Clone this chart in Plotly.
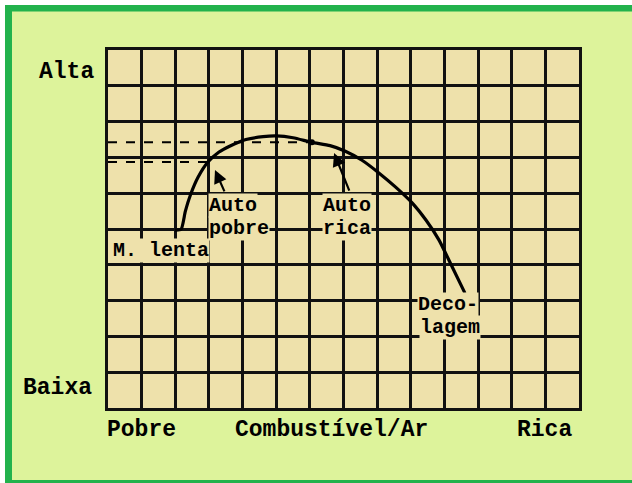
import plotly.graph_objects as go

# ---- data (grid units: x = mixture 0..14, y = power 0..10) ----
curve_x = [1.99, 2.17, 2.30, 2.45, 2.68, 2.97, 3.30, 3.63, 4.10, 4.61, 5.00, 5.50,
           6.06, 6.60, 7.04, 7.55, 8.06, 8.55, 9.04, 9.45, 9.84, 10.20, 10.61]
curve_y = [4.97, 4.99, 5.50, 5.95, 6.45, 6.87, 7.15, 7.32, 7.50, 7.58, 7.60, 7.55,
           7.42, 7.33, 7.18, 6.92, 6.56, 6.17, 5.73, 5.25, 4.69, 4.00, 3.21]

dash_hi_x = [0.0, 6.06]
dash_hi_y = [7.42, 7.42]
dash_lo_x = [0.0, 2.97]
dash_lo_y = [6.87, 6.87]

dot_x = [6.06]
dot_y = [7.42]

y_labels = ["Alta", "Baixa"]
x_labels = ["Pobre", "Combustível/Ar", "Rica"]

# inner labels, one entry per text line
line_labels = ["M. lenta", "Auto", "pobre", "Auto", "rica", "Deco-", "lagem"]
line_lab_x = [0.12, 2.97, 2.97, 6.36, 6.36, 9.18, 9.24]
line_lab_y = [4.41, 5.67, 5.02, 5.67, 5.02, 2.90, 2.25]

arrow_tail_x = [3.48, 7.19]
arrow_tail_y = [6.01, 6.03]
arrow_tip_x = [3.18, 6.72]
arrow_tip_y = [6.65, 7.12]

BG = "#DDF39B"
CELL = "#EEE1AB"
GREEN = "#22B24C"
FONT = "Liberation Mono"

fig = go.Figure()
fig.add_trace(go.Scatter(x=dash_hi_x, y=dash_hi_y, mode="lines",
                         line=dict(color="black", width=2, dash="dash"), hoverinfo="skip"))
fig.add_trace(go.Scatter(x=dash_lo_x, y=dash_lo_y, mode="lines",
                         line=dict(color="black", width=2, dash="dash"), hoverinfo="skip"))
fig.add_trace(go.Scatter(x=curve_x, y=curve_y, mode="lines",
                         line=dict(color="black", width=3.2, shape="spline", smoothing=0.6),
                         hoverinfo="skip"))
fig.add_trace(go.Scatter(x=dot_x, y=dot_y, mode="markers",
                         marker=dict(color="black", size=6), hoverinfo="skip"))

ann = []
# outer labels (paper coords)
ann.append(dict(text=y_labels[0], x=-0.089, y=0.9385))
ann.append(dict(text=y_labels[1], x=-0.108, y=0.056))
ann.append(dict(text=x_labels[0], x=0.072, y=-0.062))
ann.append(dict(text=x_labels[1], x=0.4745, y=-0.062))
ann.append(dict(text=x_labels[2], x=0.9268, y=-0.062))
for a in ann:
    a.update(xref="paper", yref="paper", showarrow=False, xanchor="center", yanchor="middle",
             font=dict(family=FONT, size=23, color="black", weight="bold"))

for t, x, y in zip(line_labels, line_lab_x, line_lab_y):
    ann.append(dict(text=t, x=x, y=y, xref="x", yref="y", showarrow=False,
                    xanchor="left", yanchor="middle", align="left",
                    bgcolor=CELL, borderpad=0,
                    font=dict(family=FONT, size=20, color="black", weight="bold")))

for tx, ty, hx, hy in zip(arrow_tail_x, arrow_tail_y, arrow_tip_x, arrow_tip_y):
    ann.append(dict(text="", x=hx, y=hy, ax=tx, ay=ty, xref="x", yref="y",
                    axref="x", ayref="y", showarrow=True, arrowhead=2,
                    arrowsize=1.2, arrowwidth=2.2, arrowcolor="black"))

L, R, T, B = 108, 579, 50, 408
W, H = 632, 483
pw, ph = R - L, B - T


def px(xp):
    return (xp - L) / pw


def py(yp):
    return (B - yp) / ph


shapes = [
    dict(type="rect", xref="paper", yref="paper", x0=px(-10), x1=px(W + 10), y0=py(5), y1=py(-10),
         fillcolor="white", line_width=0, layer="below"),
    dict(type="rect", xref="paper", yref="paper", x0=px(-10), x1=px(5), y0=py(H + 10), y1=py(-10),
         fillcolor="white", line_width=0, layer="below"),
    dict(type="rect", xref="paper", yref="paper", x0=px(5), x1=px(W + 10), y0=py(11.5), y1=py(5),
         fillcolor=GREEN, line_width=0, layer="below"),
    dict(type="rect", xref="paper", yref="paper", x0=px(5), x1=px(12), y0=py(H + 10), y1=py(5),
         fillcolor=GREEN, line_width=0, layer="below"),
    dict(type="rect", xref="paper", yref="paper", x0=px(5), x1=px(W + 10), y0=py(H + 10), y1=py(480),
         fillcolor=GREEN, line_width=0, layer="below"),
]

axis_common = dict(showgrid=True, gridcolor="#111111", gridwidth=2.6, dtick=1,
                   zeroline=False, showticklabels=False, ticks="",
                   showline=True, mirror=True, linecolor="#111111", linewidth=2.6,
                   fixedrange=True)

fig.update_layout(
    width=W, height=H,
    margin=dict(l=L, r=W - R, t=T, b=H - B, pad=0),
    paper_bgcolor=BG, plot_bgcolor=CELL,
    showlegend=False,
    xaxis=dict(range=[0, 14], tick0=0, **axis_common),
    yaxis=dict(range=[0, 10], tick0=0, **axis_common),
    annotations=ann, shapes=shapes,
)

fig.write_html("out.html", config={"displayModeBar": False},
               post_script="document.body.style.margin='0';document.body.style.overflow='hidden';")
